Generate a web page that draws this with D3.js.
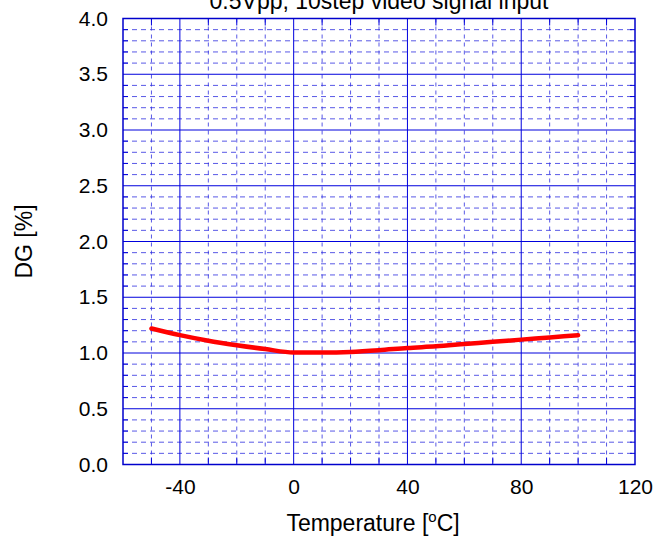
<!DOCTYPE html>
<html>
<head>
<meta charset="utf-8">
<script src="https://cdn.jsdelivr.net/npm/d3@7"></script>
<style>
  body { margin: 0; background: #fff; }
  text { font-family: "Liberation Sans", Arial, sans-serif; fill: #000; }
</style>
</head>
<body>
<div id="chart"></div>
<script>
// DG vs temperature
var temps = [-50, -40, -30, -20, -10, 0, 10, 20, 30, 40, 50, 60, 70, 80, 90, 100];
var dgValues = [1.22, 1.16, 1.11, 1.07, 1.035, 1.005, 1.005, 1.01, 1.025, 1.045, 1.06, 1.08, 1.10, 1.12, 1.14, 1.16];

var xTicks = [-40, 0, 40, 80, 120];
var yTicks = [0, 0.5, 1, 1.5, 2, 2.5, 3, 3.5, 4];
var titleText = "0.5Vpp, 10step video signal input";

var width = 668, height = 543;
var plotLeft = 123, plotRight = 635, plotTop = 18.5, plotBottom = 464.5;

var x = d3.scaleLinear().domain([-60, 120]).range([plotLeft, plotRight]);
var y = d3.scaleLinear().domain([0, 4]).range([plotBottom, plotTop]);

var svg = d3.select("#chart")
            .append("svg")
              .attr("width", width)
              .attr("height", height);

var gridColor = "#0000dd";
var minorColor = "#3030e0";

// minor grid positions (every 10 degC, every 0.1 %)
var xMinor = d3.range(-50, 120, 10).filter(function (d) { return d % 40 !== 0; });
var yMinor = d3.range(1, 40).map(function (d) { return d / 10; })
               .filter(function (d) { return Math.round(d * 10) % 5 !== 0; });
var xMajor = [-40, 0, 40, 80];
var yMajor = [0.5, 1, 1.5, 2, 2.5, 3, 3.5];

// minor dashed grid
svg.append("g").selectAll("line")
   .data(xMinor)
   .enter().append("line")
     .attr("x1", function (d) { return x(d); })
     .attr("x2", function (d) { return x(d); })
     .attr("y1", plotTop).attr("y2", plotBottom)
     .attr("stroke", minorColor).attr("stroke-opacity", 0.8)
     .attr("stroke-dasharray", "4,4");

svg.append("g").selectAll("line")
   .data(yMinor)
   .enter().append("line")
     .attr("y1", function (d) { return y(d); })
     .attr("y2", function (d) { return y(d); })
     .attr("x1", plotLeft).attr("x2", plotRight)
     .attr("stroke", minorColor).attr("stroke-opacity", 0.8)
     .attr("stroke-dasharray", "5,4");

// small solid ticks on the frame
var tickLen = 7;
svg.append("g").selectAll("line")
   .data(xMinor)
   .enter().append("line")
     .attr("x1", function (d) { return x(d); })
     .attr("x2", function (d) { return x(d); })
     .attr("y1", plotBottom).attr("y2", plotBottom - tickLen)
     .attr("stroke", gridColor);
svg.append("g").selectAll("line")
   .data(xMinor)
   .enter().append("line")
     .attr("x1", function (d) { return x(d); })
     .attr("x2", function (d) { return x(d); })
     .attr("y1", plotTop).attr("y2", plotTop + tickLen)
     .attr("stroke", gridColor);
svg.append("g").selectAll("line")
   .data(yMinor)
   .enter().append("line")
     .attr("y1", function (d) { return y(d); })
     .attr("y2", function (d) { return y(d); })
     .attr("x1", plotLeft).attr("x2", plotLeft + 5)
     .attr("stroke", gridColor);
svg.append("g").selectAll("line")
   .data(yMinor)
   .enter().append("line")
     .attr("y1", function (d) { return y(d); })
     .attr("y2", function (d) { return y(d); })
     .attr("x1", plotRight).attr("x2", plotRight - 5)
     .attr("stroke", gridColor);

// major solid grid
svg.append("g").selectAll("line")
   .data(xMajor)
   .enter().append("line")
     .attr("x1", function (d) { return x(d); })
     .attr("x2", function (d) { return x(d); })
     .attr("y1", plotTop).attr("y2", plotBottom)
     .attr("stroke", gridColor);
svg.append("g").selectAll("line")
   .data(yMajor)
   .enter().append("line")
     .attr("y1", function (d) { return y(d); })
     .attr("y2", function (d) { return y(d); })
     .attr("x1", plotLeft).attr("x2", plotRight)
     .attr("stroke", gridColor);

// frame
svg.append("rect")
   .attr("x", plotLeft).attr("y", plotTop)
   .attr("width", plotRight - plotLeft).attr("height", plotBottom - plotTop)
   .attr("fill", "none")
   .attr("stroke", "#0000cc")
   .attr("stroke-width", 1.5);

// tick labels (frame already drawn, so no domain or tick lines)
var xAxis = d3.axisBottom(x).tickValues(xTicks).tickSize(0).tickPadding(15)
              .tickFormat(function (d) { return String(d); });
var gx = svg.append("g")
            .attr("transform", "translate(0," + plotBottom + ")")
            .call(xAxis);
gx.select(".domain").remove();
gx.selectAll("text").style("font-size", "21px").attr("font-family", null);

var yAxis = d3.axisLeft(y).tickValues(yTicks).tickSize(0).tickPadding(15)
              .tickFormat(d3.format(".1f"));
var gy = svg.append("g")
            .attr("transform", "translate(" + plotLeft + ",0)")
            .call(yAxis);
gy.select(".domain").remove();
gy.selectAll("text").style("font-size", "21px").attr("font-family", null);

// the curve
var line = d3.line()
             .x(function (d, i) { return x(temps[i]); })
             .y(function (d) { return y(d); })
             .curve(d3.curveMonotoneX);

svg.append("path")
   .datum(dgValues)
   .attr("d", line)
   .attr("fill", "none")
   .attr("stroke", "#ff0000")
   .attr("stroke-width", 4.5)
   .attr("stroke-linecap", "round");

// title, clipped at the top like the original
svg.append("text")
   .attr("x", (plotLeft + plotRight) / 2)
   .attr("y", 9)
   .attr("text-anchor", "middle")
   .style("font-size", "23px")
   .text(titleText);

// axis titles
var xt = svg.append("text")
            .attr("x", 373)
            .attr("y", 531)
            .attr("text-anchor", "middle")
            .style("font-size", "23px");
xt.append("tspan").text("Temperature [");
xt.append("tspan").attr("dy", -9).style("font-size", "15px").text("o");
xt.append("tspan").attr("dy", 9).text("C]");

svg.append("text")
   .attr("transform", "translate(32," + ((plotTop + plotBottom) / 2) + ") rotate(-90)")
   .attr("text-anchor", "middle")
   .style("font-size", "23px")
   .text("DG [%]");
</script>
</body>
</html>
